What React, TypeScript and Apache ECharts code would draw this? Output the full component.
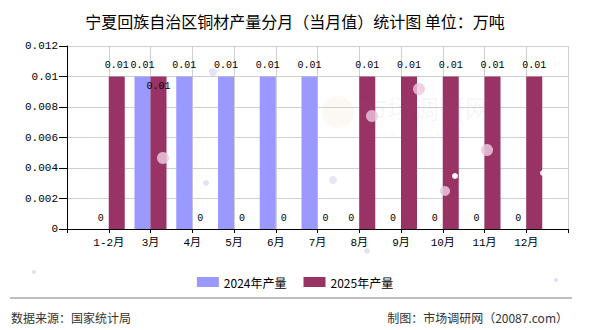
import React, { useEffect, useRef } from "react";
import * as echarts from "echarts";

const months = ["1-2月", "3月", "4月", "5月", "6月", "7月", "8月", "9月", "10月", "11月", "12月"];
const output2024 = [0, 0.01, 0.01, 0.01, 0.01, 0.01, 0, 0, 0, 0, 0];
const output2025 = [0.01, 0.01, 0, 0, 0, 0, 0.01, 0.01, 0.01, 0.01, 0.01];
const yTicks = { min: 0, max: 0.012, interval: 0.002 };
const seriesNames = ["2024年产量", "2025年产量"];

const titleText = "宁夏回族自治区铜材产量分月（当月值）统计图 单位：万吨";
const sourceText = "数据来源：国家统计局";
const makerText = "制图：市场调研网（20087.com）";

const MONO = "'Liberation Mono', 'DejaVu Sans Mono', 'Noto Sans CJK SC', monospace";
const CJK = "'Noto Sans CJK SC', sans-serif";

// decorative soft dots scattered over the plot
const dots: [number, number, number, string][] = [
  [163, 158, 6, "rgba(235,200,220,0.85)"],
  [372, 116, 6, "rgba(235,200,220,0.8)"],
  [419, 89, 6, "rgba(235,200,220,0.8)"],
  [445, 191, 5, "rgba(235,200,220,0.85)"],
  [455, 176, 3, "rgba(255,255,255,0.95)"],
  [487, 150, 6, "rgba(235,200,220,0.85)"],
  [543, 173, 3, "rgba(255,255,255,0.9)"],
  [206, 183, 3, "rgba(200,200,240,0.5)"],
  [333, 180, 4, "rgba(200,200,240,0.45)"],
  [213, 72, 4, "rgba(200,200,240,0.5)"],
  [367, 251, 3, "rgba(200,200,240,0.5)"],
  [34, 272, 2, "rgba(200,200,240,0.6)"],
  [556, 280, 2, "rgba(200,200,240,0.6)"],
];

export default function App() {
  const ref = useRef<HTMLDivElement>(null);

  useEffect(() => {
    if (!ref.current) return;
    const chart = echarts.init(ref.current, undefined, { renderer: "svg" });

    const categories = ["", ...months, ""];
    const pad = (arr: number[]) => [null, ...arr, null];

    const labelFmt = (p: any) => String(p.value);

    const data2025 = pad(output2025).map((v, i) =>
      // 3月 label sits lower so it does not collide with its neighbour
      i === 2 ? { value: v, label: { offset: [0, 21] } } : v
    );

    const barLabel = {
      show: true,
      position: "top",
      distance: 6,
      formatter: labelFmt,
      fontFamily: MONO,
      fontSize: 10,
      color: "#000",
    };

    chart.setOption({
      animation: false,
      backgroundColor: "#ffffff",
      title: {
        text: titleText,
        left: "center",
        top: 8,
        textStyle: { fontFamily: CJK, fontSize: 16, fontWeight: "normal", color: "#000" },
      },
      legend: {
        data: seriesNames,
        top: 271,
        left: "center",
        itemWidth: 22,
        itemHeight: 10,
        itemGap: 17,
        icon: "rect",
        textStyle: { fontFamily: CJK, fontSize: 12, color: "#000" },
      },
      grid: { left: 67, right: 22, top: 46, bottom: 101, containLabel: false },
      xAxis: {
        type: "category",
        data: categories,
        boundaryGap: false,
        axisLine: { lineStyle: { color: "#000", width: 1 } },
        axisTick: { show: true, length: 4, alignWithLabel: true, lineStyle: { color: "#000" } },
        axisLabel: { fontFamily: MONO, fontSize: 11, color: "#000", margin: 8, interval: 0 },
        splitLine: { show: true, lineStyle: { color: "#d0d0d0", width: 1 } },
      },
      yAxis: {
        type: "value",
        min: yTicks.min,
        max: yTicks.max,
        interval: yTicks.interval,
        axisLine: { show: true, lineStyle: { color: "#000", width: 1 } },
        axisTick: { show: true, length: 8, lineStyle: { color: "#000" } },
        axisLabel: {
          fontFamily: MONO,
          fontSize: 11,
          color: "#000",
          margin: 9,
          formatter: (v: number) => String(+v.toFixed(3)),
        },
        splitLine: { show: true, lineStyle: { color: "#d0d0d0", width: 1 } },
      },
      series: [
        {
          name: seriesNames[0],
          type: "bar",
          data: pad(output2024),
          barWidth: 16,
          barGap: "0%",
          itemStyle: { color: "#9999ff" },
          label: barLabel,
        },
        {
          name: seriesNames[1],
          type: "bar",
          data: data2025,
          barWidth: 16,
          barGap: "0%",
          itemStyle: { color: "#993366" },
          label: barLabel,
        },
      ],
      graphic: [
        // faint watermark
        {
          type: "circle",
          shape: { cx: 338, cy: 112, r: 16 },
          style: { fill: "rgba(230,200,160,0.10)" },
          z: 100,
          silent: true,
        },
        {
          type: "text",
          x: 361,
          y: 94,
          style: {
            text: "市场调研网",
            fontFamily: CJK,
            fontSize: 26,
            fill: "rgba(120,120,120,0.07)",
          },
          z: 100,
          silent: true,
        },
        {
          type: "text",
          x: 372,
          y: 128,
          style: {
            text: "w w w . 2 0 0 8 7 . c o m",
            fontFamily: CJK,
            fontSize: 8,
            fill: "rgba(120,120,120,0.07)",
          },
          z: 100,
          silent: true,
        },
        ...dots.map(([cx, cy, r, fill]) => ({
          type: "circle",
          shape: { cx, cy, r },
          style: { fill },
          z: 100,
          silent: true,
        })),
        {
          type: "line",
          shape: { x1: 10, y1: 298, x2: 572, y2: 298 },
          style: { stroke: "#808080", lineWidth: 1 },
        },
        {
          type: "text",
          x: 11,
          y: 317,
          style: {
            text: sourceText,
            fontFamily: CJK,
            fontSize: 12,
            fill: "#333",
            verticalAlign: "middle",
          },
        },
        {
          type: "text",
          x: 568,
          y: 317,
          style: {
            text: makerText,
            fontFamily: CJK,
            fontSize: 12,
            fill: "#333",
            align: "right",
            verticalAlign: "middle",
          },
        },
      ],
    });

    return () => chart.dispose();
  }, []);

  return (
    <div
      ref={ref}
      style={{ position: "fixed", left: 0, top: 0, width: 590, height: 330 }}
    />
  );
}
